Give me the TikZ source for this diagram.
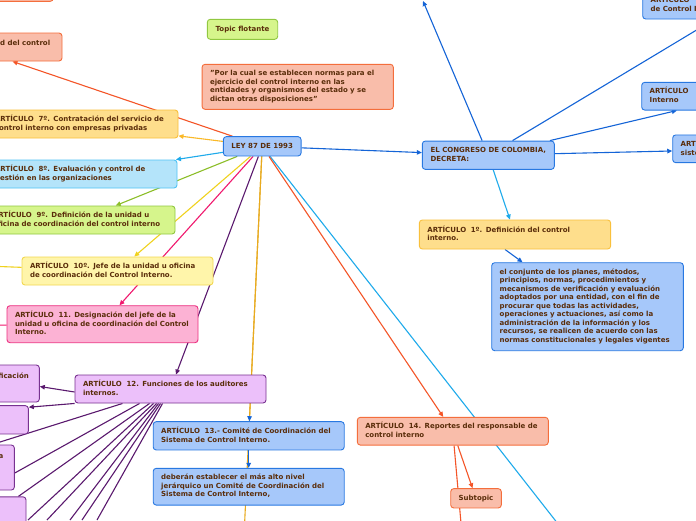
\documentclass[tikz,border=0pt]{standalone}
\usepackage{fontspec}
\setmainfont{DejaVu Sans}
\usetikzlibrary{arrows.meta,calc}
\pgfdeclarelayer{bg}
\pgfsetlayers{bg,main}
\definecolor{txt}{RGB}{90,45,10}
\definecolor{salF}{RGB}{249,189,170}
\definecolor{salD}{RGB}{244,110,60}
\definecolor{bluF}{RGB}{166,200,250}
\definecolor{bluD}{RGB}{40,120,225}
\definecolor{yorF}{RGB}{254,222,140}
\definecolor{yorD}{RGB}{249,192,60}
\definecolor{cyaF}{RGB}{180,228,250}
\definecolor{cyaD}{RGB}{80,195,245}
\definecolor{limF}{RGB}{214,245,140}
\definecolor{limD}{RGB}{145,200,65}
\definecolor{pyeF}{RGB}{255,245,170}
\definecolor{pyeD}{RGB}{242,216,80}
\definecolor{pinF}{RGB}{252,178,212}
\definecolor{pinD}{RGB}{236,48,128}
\definecolor{lavF}{RGB}{236,192,250}
\definecolor{lavD}{RGB}{120,50,145}
\definecolor{lOrange}{RGB}{244,85,40}
\definecolor{lGold}{RGB}{250,185,40}
\definecolor{lCyan}{RGB}{30,170,235}
\definecolor{lGreen}{RGB}{140,190,40}
\definecolor{lYellow}{RGB}{240,210,30}
\definecolor{lPink}{RGB}{240,25,110}
\definecolor{lPurple}{RGB}{90,25,110}
\definecolor{lGoldB}{RGB}{232,170,30}
\definecolor{lBlue}{RGB}{20,100,215}
\newcommand\TL[1]{\begin{tabular}{@{}l@{}}#1\end{tabular}}
\tikzset{
  mm/.style={draw, rounded corners=3pt, line width=0.9pt, text=txt,
    font=\fontsize{7}{8.5}\selectfont\bfseries, inner xsep=8pt, inner ysep=1pt, align=left},
  lbl/.style={text=txt, font=\fontsize{7}{8.5}\selectfont\bfseries, inner sep=0pt},
  sal/.style={mm, fill=salF, draw=salD},
  blu/.style={mm, fill=bluF, draw=bluD},
  yor/.style={mm, fill=yorF, draw=yorD},
  cya/.style={mm, fill=cyaF, draw=cyaD},
  lim/.style={mm, fill=limF, draw=limD},
  pye/.style={mm, fill=pyeF, draw=pyeD},
  pin/.style={mm, fill=pinF, draw=pinD},
  lav/.style={mm, fill=lavF, draw=lavD},
  con/.style={line width=1.1pt},
  arr/.style={con, -{Triangle[length=5pt,width=4.5pt]}},
}
\begin{document}
\begin{tikzpicture}[x=1pt,y=-1pt]
\useasboundingbox (0,0) rectangle (696,520);
\clip (0,0) rectangle (696,520);

% top / left partial nodes
\node[sal, minimum width=193.3pt, minimum height=28.3pt] (tl) at (-43.35,-12.85) {};
\node[sal, minimum width=184pt, minimum height=28pt] (art6) at (-30,47) {};
\node[lbl, anchor=base west] (lbl6) at (0,45) {d del control};

\node[lim, align=center, minimum width=70.4pt, minimum height=20pt] (topic) at (242.5,29.3) {Topic flotante};
\node[sal, text width=175.3pt, minimum height=45pt] (quote) at (297.7,86.8)
  {\TL{"Por la cual se establecen normas para el\\ejercicio del control interno en las\\entidades y organismos del estado y se\\dictan otras disposiciones"}};
\node[blu, align=center, minimum width=77.7pt, minimum height=19.3pt, inner xsep=2pt] (ley) at (262.2,146.3) {LEY 87 DE 1993};

\node[yor, text width=175pt, minimum height=28pt] (art7) at (82.5,124)
  {\TL{ARTÍCULO\ \ 7º. Contratación del servicio de\\control interno con empresas privadas}};
\node[cya, text width=174pt, minimum height=28pt] (art8) at (82,174)
  {\TL{ARTÍCULO\ \ 8º. Evaluación y control de\\gestión en las organizaciones}};
\node[lim, text width=174pt, minimum height=28pt] (art9) at (80,220)
  {\TL{ARTÍCULO\ \ 9º. Definición de la unidad u\\oficina de coordinación del control interno}};
\node[pye, text width=175pt, minimum height=28pt] (art10) at (117.5,271)
  {\TL{ARTÍCULO\ \ 10º. Jefe de la unidad u oficina\\de coordinación del Control Interno.}};
\node[pin, text width=175pt, minimum height=37pt] (art11) at (102.5,324.2)
  {\TL{ARTÍCULO\ \ 11. Designación del jefe de la\\unidad u oficina de coordinación del Control\\Interno.}};
\node[lav, text width=175pt, minimum height=28pt] (art12) at (170.5,389)
  {\TL{ARTÍCULO\ \ 12. Funciones de los auditores\\internos.}};

\node[lav, minimum width=189.3pt, minimum height=37pt] (boxA) at (-55.3,383.5) {};
\node[lbl, anchor=base east] (lblA) at (29,378.5) {ficación};
\node[lav, minimum width=178.3pt, minimum height=28.3pt] (boxB) at (-60.8,419.8) {};
\node[lav, minimum width=174.3pt, minimum height=45pt] (boxC) at (-72.8,467.5) {};
\node[lbl, anchor=base east] (lblC) at (3.5,458.5) {a};
\node[lav, minimum width=186pt, minimum height=43pt] (boxD) at (-67,518.3) {};

\node[blu, text width=175pt, minimum height=28.3pt] (art13) at (248.7,435.8)
  {\TL{ARTÍCULO\ \ 13.- Comité de Coordinación del\\Sistema de Control Interno.}};
\node[blu, text width=175pt, minimum height=36.7pt] (deb) at (248.7,486.7)
  {\TL{deberán establecer el más alto nivel\\jerárquico un Comité de Coordinación del\\Sistema de Control Interno,}};
\node[sal, text width=175pt, minimum height=27.7pt] (art14) at (452.8,431.2)
  {\TL{ARTÍCULO\ \ 14. Reportes del responsable de\\control interno}};
\node[sal, align=center, minimum width=50.6pt, minimum height=19.3pt, inner xsep=2pt] (sub) at (476,498.3) {Subtopic};

\node[blu, minimum width=132pt, minimum height=28.3pt] (cong) at (488.3,155.2)
  {\TL{EL CONGRESO DE COLOMBIA,\\DECRETA:}};
\node[yor, text width=175.3pt, minimum height=29pt] (art1) at (515,234.5)
  {\TL{ARTÍCULO\ \ 1º. Definición del control\\interno.}};
\node[blu, text width=175.6pt, minimum height=88pt] (big) at (587.5,306.7)
  {\TL{el conjunto de los planes, métodos,\\principios, normas, procedimientos y\\mecanismos de verificación y evaluación\\adoptados por una entidad, con el fin de\\procurar que todas las actividades,\\operaciones y actuaciones, así como la\\administración de la información y los\\recursos, se realicen de acuerdo con las\\normas constitucionales y legales vigentes}};

\node[blu, text width=175pt, minimum height=28pt] (rt) at (738.2,5)
  {\TL{ARTÍCULO\\de Control Interno}};
\node[blu, text width=175pt, minimum height=27.7pt] (rm) at (737.2,96.2)
  {\TL{ARTÍCULO\\Interno}};
\node[blu, text width=175pt, minimum height=27.7pt] (rb) at (768.2,148.8)
  {\TL{ARTÍCULO\\sistema}};

% off-canvas ends
\coordinate (up) at (423,1);
\coordinate (c10) at (-40,265);
\coordinate (c11) at (-40,325.5);
\coordinate (c12a) at (-40,454.6);
\coordinate (c12c) at (28,520);
\coordinate (c12d) at (47,520);
\coordinate (c12e) at (70,520);
\coordinate (c12f) at (82,520);
\coordinate (c12g) at (97,520);
\coordinate (goldEnd) at (242.9,560);
\coordinate (cyanEnd) at (586.3,560);
\coordinate (o14End) at (464.3,560);

\begin{pgfonlayer}{bg}
\clip (0,0) rectangle (696,520);
\fill[white] (0,0) rectangle (696,520);
\draw[con, lCyan] (ley) -- (cyanEnd);
\draw[con, lGoldB] (ley) -- (goldEnd);
\draw[arr, lOrange] (ley) -- (art6);
\draw[arr, lGold] (ley) -- (art7);
\draw[arr, lCyan] (ley) -- (art8);
\draw[arr, lGreen] (ley) -- (art9);
\draw[arr, lYellow] (ley) -- (art10);
\draw[arr, lPink] (ley) -- (art11);
\draw[arr, lPurple] (ley) -- (art12);
\draw[con, lGoldB, -{Triangle[length=5pt,width=4.5pt,color=lBlue]}] (ley) -- (art13);
\draw[arr, lOrange] (ley) -- (art14);
\draw[arr, lBlue] (ley) -- (cong);

\draw[con, lYellow] (art10) -- (c10);
\draw[con, lPink] (art11) -- (c11);

\draw[arr, lPurple] ([yshift=-3pt]art12.west) -- ([yshift=-3pt]boxA.east);
\draw[arr, lPurple] (art12.south west) -- ([yshift=-2pt]boxB.north east);
\draw[con, lPurple] ([xshift=48pt]art12.south west) -- (c12a);
\draw[con, lPurple] ([xshift=65pt]art12.south west) -- ([yshift=-5.5pt]boxC.east);
\draw[con, lPurple] ([xshift=75pt]art12.south west) -- ([xshift=-8pt]boxD.north east);
\draw[con, lPurple] ([xshift=79pt]art12.south west) -- (c12c);
\draw[con, lPurple] ([xshift=82pt]art12.south west) -- (c12d);
\draw[con, lPurple] ([xshift=84pt]art12.south west) -- (c12e);
\draw[con, lPurple] ([xshift=86pt]art12.south west) -- (c12f);
\draw[con, lPurple] ([xshift=88pt]art12.south west) -- (c12g);

\draw[arr, lBlue] (art13) -- (deb);
\draw[arr, lOrange] (art14) -- (sub);
\draw[con, lOrange] (art14) -- (o14End);

\draw[arr, lBlue] (cong) -- (up);
\draw[arr, lBlue] (cong) -- (rt);
\draw[arr, lBlue] (cong) -- (rm);
\draw[arr, lBlue] (cong) -- (rb);
\draw[arr, lCyan] (cong) -- (art1);
\draw[arr, lBlue] ([xshift=-10pt]art1.south) -- ([xshift=-65pt]big.north);
\end{pgfonlayer}
\end{tikzpicture}
\end{document}
